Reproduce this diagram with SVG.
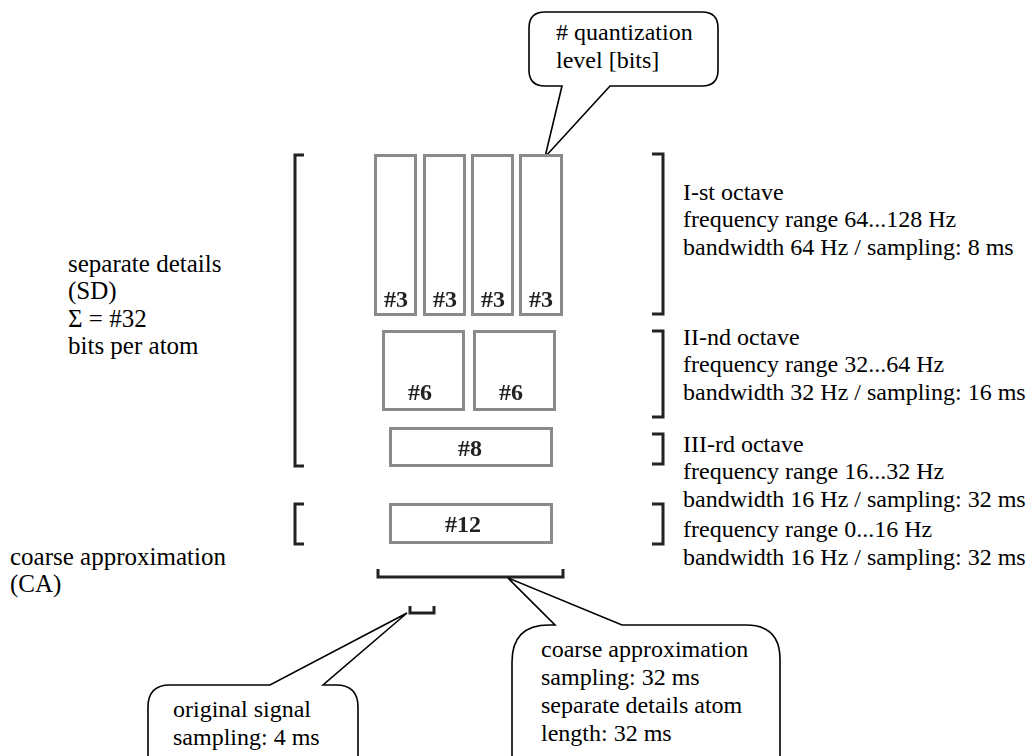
<svg xmlns="http://www.w3.org/2000/svg" width="1034" height="756" viewBox="0 0 1034 756">
  <style>
    .t { font-family: "Liberation Serif", "Times New Roman", serif; font-size: 24px; fill: #000; }
    .side { font-size: 25px; }
    .lbl { font-family: "Liberation Serif", "Times New Roman", serif; font-size: 24px; font-weight: bold; fill: #222; text-anchor: middle; }
    .cell { fill: #fff; stroke: #8a8a8a; stroke-width: 3; }
    .br { fill: none; stroke: #222; stroke-width: 3; }
    .call { fill: #fff; stroke: #000; stroke-width: 1.6; stroke-linejoin: miter; }
  </style>
  <defs>
    <filter id="soft" x="-5%" y="-5%" width="110%" height="110%">
      <feGaussianBlur stdDeviation="0.7"/>
    </filter>
  </defs>

  <rect width="1034" height="756" fill="#fff"/>

  <!-- callout: quantization level -->
  <g id="callout-quant">
    <path class="call" d="M545,12 H702 Q718,12 718,28 V70 Q718,86 702,86 H610 L545,157 L562,86 H545 Q529,86 529,70 V28 Q529,12 545,12 Z"/>
    <text class="t" x="556" y="40"># quantization</text>
    <text class="t" x="556" y="68">level [bits]</text>
  </g>

  <!-- I-st octave cells -->
  <g id="octave1" filter="url(#soft)">
    <rect class="cell" x="375.5" y="155.5" width="40" height="159"/>
    <rect class="cell" x="424.5" y="155.5" width="40" height="159"/>
    <rect class="cell" x="472.5" y="155.5" width="40" height="159"/>
    <rect class="cell" x="520.5" y="155.5" width="41" height="159"/>
    <text class="lbl" x="396" y="307">#3</text>
    <text class="lbl" x="445" y="307">#3</text>
    <text class="lbl" x="493" y="307">#3</text>
    <text class="lbl" x="541" y="307">#3</text>
  </g>

  <!-- II-nd octave cells -->
  <g id="octave2" filter="url(#soft)">
    <rect class="cell" x="383.5" y="331.5" width="80" height="78"/>
    <rect class="cell" x="474.5" y="331.5" width="80" height="78"/>
    <text class="lbl" x="420" y="400">#6</text>
    <text class="lbl" x="511" y="400">#6</text>
  </g>

  <!-- III-rd octave cell -->
  <g id="octave3" filter="url(#soft)">
    <rect class="cell" x="390.5" y="428.5" width="161" height="37"/>
    <text class="lbl" x="470" y="456">#8</text>
  </g>

  <!-- coarse approximation cell -->
  <g id="approx" filter="url(#soft)">
    <rect class="cell" x="390.5" y="504.5" width="161" height="38"/>
    <text class="lbl" x="463" y="532">#12</text>
  </g>

  <!-- brackets -->
  <g id="brackets" filter="url(#soft)">
    <path class="br" d="M304,155 H295 V466 H304"/>
    <path class="br" d="M304,504 H295 V544 H304"/>
    <path class="br" d="M652,154 H663 V314 H652"/>
    <path class="br" d="M652,331 H663 V417 H652"/>
    <path class="br" d="M652,434 H663 V464 H652"/>
    <path class="br" d="M652,504 H663 V544 H652"/>
    <path class="br" d="M378,569 V577 H563 V569"/>
    <path class="br" d="M410,606 V613 H434 V606"/>
  </g>

  <!-- left labels -->
  <g id="label-sd">
    <text class="t side" x="68" y="272">separate details</text>
    <text class="t side" x="68" y="299">(SD)</text>
    <text class="t side" x="68" y="327">Σ = #32</text>
    <text class="t side" x="68" y="354">bits per atom</text>
  </g>
  <g id="label-ca">
    <text class="t side" x="10" y="565">coarse approximation</text>
    <text class="t side" x="10" y="592">(CA)</text>
  </g>

  <!-- right labels -->
  <g id="label-oct1">
    <text class="t" x="683" y="200">I-st octave</text>
    <text class="t" x="683" y="227">frequency range 64...128 Hz</text>
    <text class="t" x="683" y="255">bandwidth 64 Hz / sampling: 8 ms</text>
  </g>
  <g id="label-oct2">
    <text class="t" x="683" y="345">II-nd octave</text>
    <text class="t" x="683" y="372">frequency range 32...64 Hz</text>
    <text class="t" x="683" y="400">bandwidth 32 Hz / sampling: 16 ms</text>
  </g>
  <g id="label-oct3">
    <text class="t" x="683" y="452">III-rd octave</text>
    <text class="t" x="683" y="479">frequency range 16...32 Hz</text>
    <text class="t" x="683" y="507">bandwidth 16 Hz / sampling: 32 ms</text>
  </g>
  <g id="label-approx">
    <text class="t" x="683" y="537">frequency range 0...16 Hz</text>
    <text class="t" x="683" y="565">bandwidth 16 Hz / sampling: 32 ms</text>
  </g>

  <!-- callout: original signal -->
  <g id="callout-signal">
    <path class="call" d="M148,770 V707 Q148,685 170,685 H270 L407,613 L323,685 H336 Q358,685 358,707 V770"/>
    <text class="t" x="173" y="717">original signal</text>
    <text class="t" x="173" y="745">sampling: 4 ms</text>
  </g>

  <!-- callout: coarse approximation sampling -->
  <g id="callout-ca">
    <path class="call" d="M512,770 V662 Q512,625 549,625 H555 L508,578 L622,625 H746 Q780,625 780,659 V770"/>
    <text class="t" x="541" y="657">coarse approximation</text>
    <text class="t" x="541" y="685">sampling: 32 ms</text>
    <text class="t" x="541" y="713">separate details atom</text>
    <text class="t" x="541" y="741">length: 32 ms</text>
  </g>
</svg>
